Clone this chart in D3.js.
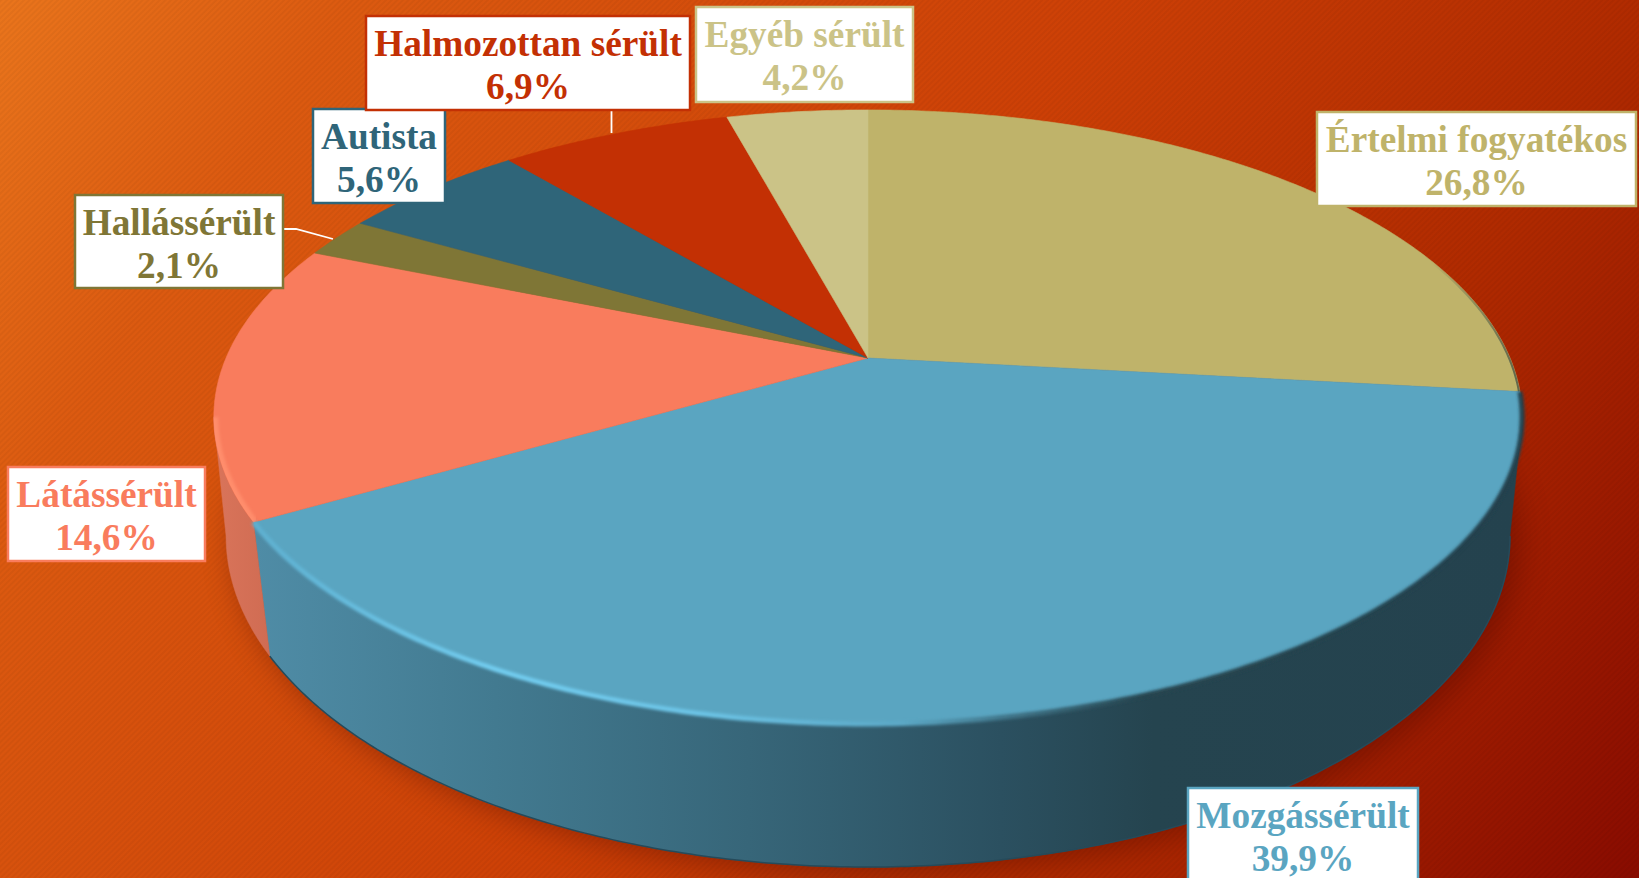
<!DOCTYPE html>
<html lang="hu">
<head>
<meta charset="utf-8">
<title>Sérülés típusa</title>
<script src="https://d3js.org/d3.v7.min.js"></script>
<style>
html,body{margin:0;padding:0;background:#c8400a;overflow:hidden}
svg{display:block}
text{font-family:"Liberation Serif","Times New Roman",serif;font-weight:700;text-anchor:middle}
</style>
</head>
<body>
<script>
const categories = ["Értelmi fogyatékos","Mozgássérült","Látássérült","Hallássérült","Autista","Halmozottan sérült","Egyéb sérült"];
const values = [26.8,39.9,14.6,2.1,5.6,6.9,4.2];
const colors = ["#BFB36A","#5AA5C1","#F97C5D","#7F7636","#2F6579","#C33004","#CBC387"];
const labelBoxes = [[1317,112,319,94],[1188,788,230,94],[8,467,197,94],[75,195,208,93],[313,109,132,94],[366,16,324,94],[696,7,217,95]];
const leaders = [null,null,null,[[284,229],[296,229],[333,239]],null,[[611.5,110],[611.5,133]],null];

const W = 1639, H = 878;
const svg = d3.select("body").append("svg").attr("width",W).attr("height",H).attr("viewBox",`0 0 ${W} ${H}`);
const defs = svg.append("defs");

function addGrad(id, attrs, stops){
  const g = defs.append("linearGradient").attr("id",id).attr("gradientUnits","userSpaceOnUse");
  Object.entries(attrs).forEach(([k,v])=>g.attr(k,v));
  stops.forEach(([o,c])=>g.append("stop").attr("offset",o).attr("stop-color",c));
}
addGrad("bg",{x1:0,y1:0,x2:1530,y2:1020},[[0,"#EA751C"],[.16,"#DC5A10"],[.5,"#CD4006"],[.75,"#B02A00"],[1,"#8A0C00"]]);
addGrad("sideBlue",{x1:255,y1:0,x2:1520,y2:0},[[0,"#4F8CA6"],[.19,"#427A90"],[.39,"#376679"],[.59,"#2B5060"],[.71,"#25444F"],[1,"#24424E"]]);
addGrad("sideSalmon",{x1:216,y1:0,x2:275,y2:0},[[0,"#D9745A"],[1,"#CF6B52"]]);
addGrad("rimBlue",{x1:255,y1:0,x2:1525,y2:0},[[0,"#5EB0D0"],[.19,"#72CDF0"],[.35,"#6CC4E6"],[.51,"#5BA8C6"],[.59,"#3F7488"],[.7,"#26454F"],[1,"#22404C"]]);
addGrad("rimTan",{x1:1430,y1:0,x2:1515,y2:0},[[0,"rgba(61,74,64,0)"],[1,"rgba(61,74,64,.7)"]]);

const pat = defs.append("pattern").attr("id","stripes").attr("patternUnits","userSpaceOnUse")
  .attr("width",4).attr("height",4).attr("patternTransform","rotate(-45)");
pat.append("rect").attr("width",4).attr("height",2).attr("fill","#000").attr("opacity",.04);

defs.append("filter").attr("id","blur2").attr("x","-5%").attr("y","-5%").attr("width","110%").attr("height","110%")
  .append("feGaussianBlur").attr("stdDeviation",1.4);
defs.append("filter").attr("id","blurShadow").attr("x","-10%").attr("y","-10%").attr("width","120%").attr("height","120%")
  .append("feGaussianBlur").attr("stdDeviation",16);

// Perspective projection of the unit disc onto the top and base faces
const faceTop  = {cx:868, cy:358,   A:642, B:295.7, k:.192};
const faceBase = {cx:868, cy:479.8, A:632.6, B:321.4, k:.17};
const project = (f,th) => {
  const u = Math.sin(th), v = Math.cos(th), w = 1 + f.k*v;
  return [f.cx + f.A*u/w, f.cy - f.B*v/w];
};
const arcPts = (f,a,b) => {
  const n = Math.max(2,Math.ceil(Math.abs(b-a)/.01));
  return d3.range(n+1).map(i=>project(f,a+(b-a)*i/n));
};
const line = d3.line();

const arcs = d3.pie().sort(null).value(d=>d)(values);
const silhouetteR = Math.acos(-faceTop.k);
const silhouetteL = 2*Math.PI - silhouetteR;
const silhouetteRB = Math.acos(-faceBase.k);
const silhouetteLB = 2*Math.PI - silhouetteRB;

svg.append("rect").attr("width",W).attr("height",H).attr("fill","url(#bg)");
svg.append("rect").attr("width",W).attr("height",H).attr("fill","url(#stripes)");

// soft cast shadow
svg.append("path")
  .attr("d",line(arcPts(faceBase,0,2*Math.PI))+"Z")
  .attr("transform","translate(8,6)")
  .attr("fill","#3a0500").attr("opacity",.38).attr("filter","url(#blurShadow)");

// side walls: visible part of slices between the right and left silhouette
const gSide = svg.append("g");
const sideWall = (a0,a1,b0,b1,fill) => gSide.append("path")
  .attr("d",line(arcPts(faceTop,a0,a1).concat(arcPts(faceBase,b1,b0)))+"Z")
  .attr("fill",fill).attr("stroke",fill).attr("stroke-width",.5);
const blue = arcs[1], salmon = arcs[2], tan = arcs[0];
sideWall(silhouetteR,blue.endAngle,silhouetteRB,blue.endAngle,"url(#sideBlue)");
sideWall(salmon.startAngle,silhouetteL,salmon.startAngle,silhouetteLB,"url(#sideSalmon)");
gSide.append("path").attr("d",line(arcPts(faceBase,silhouetteRB,blue.endAngle)))
  .attr("fill","none").attr("stroke","#264A5A").attr("stroke-width",1.5);

// top face slices
const slicePath = d => line([[faceTop.cx,faceTop.cy]].concat(arcPts(faceTop,d.startAngle,d.endAngle)))+"Z";
svg.append("g").selectAll("path").data(arcs).join("path")
  .attr("d",slicePath)
  .attr("fill",(d,i)=>colors[i])
  .attr("stroke",(d,i)=>colors[i]).attr("stroke-width",.6);

// bevel rims
defs.append("clipPath").attr("id","clipTan").append("path").attr("d",slicePath(tan));
defs.append("clipPath").attr("id","clipSalmon").append("path").attr("d",slicePath(salmon));
svg.append("g").attr("clip-path","url(#clipTan)").append("path")
  .attr("d",line(arcPts(faceTop,tan.endAngle*.72,tan.endAngle)))
  .attr("fill","none").attr("stroke","url(#rimTan)").attr("stroke-width",4);
svg.append("path")
  .attr("d",line(arcPts(faceTop,blue.startAngle,blue.endAngle)))
  .attr("fill","none").attr("stroke","url(#rimBlue)").attr("stroke-width",5).attr("filter","url(#blur2)");
svg.append("g").attr("clip-path","url(#clipSalmon)").append("path")
  .attr("d",line(arcPts(faceTop,salmon.startAngle,silhouetteL)))
  .attr("fill","none").attr("stroke","#FF8D6C").attr("stroke-width",9).attr("filter","url(#blur2)");

// leaders
svg.append("g").selectAll("path").data(leaders.filter(Boolean)).join("path")
  .attr("d",d=>line(d)).attr("fill","none").attr("stroke","#fff").attr("stroke-width",1.8);

// labels
const fmt = d3.formatLocale({decimal:",",thousands:" ",grouping:[3],currency:["","" ]}).format(".1f");
const g = svg.append("g").selectAll("g").data(categories).join("g");
g.append("rect")
  .attr("x",(d,i)=>labelBoxes[i][0]).attr("y",(d,i)=>labelBoxes[i][1])
  .attr("width",(d,i)=>labelBoxes[i][2]).attr("height",(d,i)=>labelBoxes[i][3])
  .attr("fill","#fff").attr("stroke",(d,i)=>colors[i]).attr("stroke-width",2.5);
g.append("text")
  .attr("x",(d,i)=>labelBoxes[i][0]+labelBoxes[i][2]/2).attr("y",(d,i)=>labelBoxes[i][1]+40)
  .attr("font-size",37.3).attr("fill",(d,i)=>colors[i]).text(d=>d);
g.append("text")
  .attr("x",(d,i)=>labelBoxes[i][0]+labelBoxes[i][2]/2).attr("y",(d,i)=>labelBoxes[i][1]+83)
  .attr("font-size",37.3).attr("fill",(d,i)=>colors[i]).text((d,i)=>fmt(values[i])+"%");
</script>
</body>
</html>
